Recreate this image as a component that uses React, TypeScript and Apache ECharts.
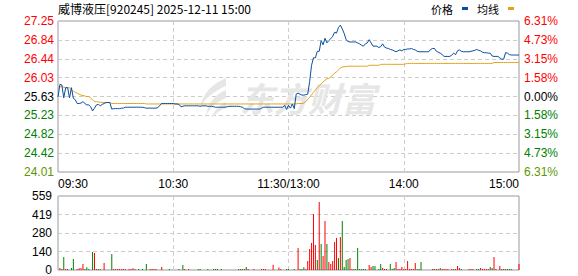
import React, { useEffect, useRef } from 'react';
import * as echarts from 'echarts';

const chartTitle = '威博液压[920245] 2025-12-11 15:00';
const legendNames = ['价格', '均线'];
const priceMin = 24.01;
const priceMax = 27.25;
const priceTickLabels = ['24.01', '24.42', '24.82', '25.23', '25.63', '26.03', '26.44', '26.84', '27.25'];
const pctTickLabels = ['6.31%', '4.73%', '3.15%', '1.58%', '0.00%', '1.58%', '3.15%', '4.73%', '6.31%'];
const volumeMax = 559;
const volumeTickLabels = ['0', '140', '280', '419', '559'];
const xTickLabels: Record<number, string> = { 0: '09:30', 60: '10:30', 120: '11:30/13:00', 180: '14:00', 240: '15:00' };

// minute categories 09:30..11:30, 13:01..15:00
const pad = (n: number) => (n < 10 ? '0' + n : '' + n);
const times: string[] = [];
for (let m = 9 * 60 + 30; m <= 11 * 60 + 30; m++) times.push(pad(Math.floor(m / 60)) + ':' + pad(m % 60));
for (let m = 13 * 60 + 1; m <= 15 * 60; m++) times.push(pad(Math.floor(m / 60)) + ':' + pad(m % 60));

const price = [
  25.62, 25.89, 25.88, 25.60, 25.82, 25.82, 25.60, 25.82, 25.59, 25.56,
  25.48, 25.48, 25.49, 25.52, 25.48, 25.45, 25.45, 25.41, 25.32, 25.38,
  25.45, 25.46, 25.43, 25.46, 25.48, 25.50, 25.50, 25.50, 25.36, 25.37,
  25.37, 25.37, 25.37, 25.38, 25.38, 25.40, 25.40, 25.40, 25.40, 25.40,
  25.40, 25.40, 25.40, 25.40, 25.40, 25.39, 25.38, 25.38, 25.38, 25.38,
  25.38, 25.38, 25.39, 25.44, 25.48, 25.48, 25.48, 25.48, 25.48, 25.48,
  25.48, 25.47, 25.47, 25.46, 25.41, 25.42, 25.43, 25.43, 25.43, 25.43,
  25.43, 25.43, 25.43, 25.43, 25.42, 25.43, 25.43, 25.43, 25.42, 25.42,
  25.42, 25.41, 25.40, 25.40, 25.40, 25.40, 25.40, 25.40, 25.41, 25.42,
  25.42, 25.42, 25.42, 25.42, 25.42, 25.41, 25.40, 25.37, 25.36, 25.36,
  25.36, 25.36, 25.36, 25.36, 25.36, 25.36, 25.38, 25.40, 25.40, 25.40,
  25.40, 25.40, 25.40, 25.40, 25.40, 25.40, 25.40, 25.40, 25.44, 25.35,
  25.44, 25.38, 25.47, 25.37, 25.68, 25.70, 25.68, 25.66, 25.66, 25.67,
  25.68, 25.95, 26.30, 26.46, 26.46, 26.60, 26.60, 26.83, 26.74, 26.88,
  26.78, 26.83, 26.87, 26.92, 27.01, 26.99, 27.11, 27.16, 27.08, 26.98,
  26.85, 26.81, 26.80, 26.80, 26.80, 26.80, 26.78, 26.76, 26.73, 26.71,
  26.76, 26.78, 26.85, 26.78, 26.71, 26.71, 26.71, 26.68, 26.70, 26.76,
  26.69, 26.67, 26.66, 26.64, 26.63, 26.61, 26.59, 26.61, 26.63, 26.61,
  26.64, 26.64, 26.65, 26.65, 26.66, 26.64, 26.63, 26.60, 26.59, 26.59,
  26.59, 26.59, 26.59, 26.59, 26.64, 26.66, 26.66, 26.60, 26.58, 26.56,
  26.53, 26.49, 26.49, 26.49, 26.49, 26.52, 26.56, 26.53, 26.61, 26.63,
  26.60, 26.59, 26.59, 26.59, 26.59, 26.60, 26.61, 26.62, 26.64, 26.62,
  26.61, 26.58, 26.57, 26.57, 26.56, 26.56, 26.50, 26.49, 26.49, 26.49,
  26.46, 26.43, 26.43, 26.57, 26.56, 26.53, 26.52, 26.52, 26.52, 26.52,
  26.52,
];

const avgPrice = [
  25.80, 25.84, 25.84, 25.83, 25.82, 25.82, 25.82, 25.76, 25.74, 25.72,
  25.70, 25.68, 25.66, 25.65, 25.64, 25.63, 25.63, 25.60, 25.56, 25.52,
  25.52, 25.51, 25.51, 25.50, 25.50, 25.50, 25.50, 25.50, 25.48, 25.48,
  25.48, 25.48, 25.48, 25.48, 25.48, 25.48, 25.48, 25.48, 25.48, 25.48,
  25.48, 25.48, 25.48, 25.48, 25.48, 25.48, 25.47, 25.47, 25.47, 25.47,
  25.47, 25.47, 25.47, 25.47, 25.47, 25.47, 25.47, 25.47, 25.47, 25.47,
  25.47, 25.47, 25.47, 25.47, 25.47, 25.47, 25.47, 25.47, 25.47, 25.47,
  25.47, 25.47, 25.47, 25.47, 25.47, 25.47, 25.47, 25.47, 25.47, 25.47,
  25.47, 25.47, 25.47, 25.47, 25.47, 25.47, 25.47, 25.47, 25.47, 25.47,
  25.47, 25.47, 25.47, 25.47, 25.47, 25.47, 25.47, 25.47, 25.47, 25.47,
  25.47, 25.47, 25.47, 25.47, 25.47, 25.47, 25.47, 25.47, 25.47, 25.47,
  25.47, 25.47, 25.47, 25.47, 25.47, 25.47, 25.47, 25.47, 25.47, 25.47,
  25.47, 25.47, 25.47, 25.47, 25.47, 25.48, 25.48, 25.48, 25.49, 25.52,
  25.57, 25.61, 25.67, 25.72, 25.77, 25.82, 25.86, 25.90, 25.94, 25.98,
  26.01, 26.02, 26.05, 26.09, 26.13, 26.16, 26.20, 26.24, 26.26, 26.27,
  26.27, 26.28, 26.28, 26.28, 26.28, 26.28, 26.28, 26.28, 26.28, 26.28,
  26.28, 26.28, 26.30, 26.30, 26.30, 26.30, 26.30, 26.30, 26.32, 26.32,
  26.32, 26.32, 26.32, 26.32, 26.32, 26.32, 26.32, 26.32, 26.32, 26.32,
  26.32, 26.33, 26.34, 26.34, 26.34, 26.34, 26.34, 26.34, 26.34, 26.34,
  26.34, 26.34, 26.34, 26.34, 26.34, 26.34, 26.34, 26.34, 26.34, 26.34,
  26.34, 26.34, 26.34, 26.34, 26.34, 26.34, 26.34, 26.34, 26.34, 26.34,
  26.34, 26.34, 26.34, 26.34, 26.34, 26.34, 26.34, 26.34, 26.34, 26.34,
  26.34, 26.34, 26.34, 26.34, 26.34, 26.34, 26.34, 26.36, 26.36, 26.36,
  26.36, 26.36, 26.36, 26.36, 26.36, 26.36, 26.36, 26.36, 26.36, 26.36,
  26.36,
];

// [minute index, volume, 1 = up / 0 = down]
const volumes: [number, number, number][] = [
  [1, 15, 1], [2, 8, 1], [3, 98, 0], [4, 8, 1], [5, 8, 1], [7, 15, 0], [8, 83, 0], [10, 8, 1], [11, 13, 1], [12, 15, 1],
  [13, 45, 1], [14, 8, 0], [15, 20, 0], [16, 8, 0], [18, 136, 0], [19, 128, 1], [20, 8, 1], [21, 8, 0], [22, 8, 0], [24, 53, 1],
  [28, 121, 0], [29, 8, 1], [30, 8, 1], [31, 8, 1], [32, 8, 1], [33, 8, 1], [34, 8, 1], [35, 8, 1], [37, 8, 1], [38, 8, 1],
  [39, 13, 1], [40, 8, 1], [42, 8, 0], [44, 8, 0], [46, 45, 0], [48, 8, 1], [49, 8, 1], [50, 8, 1], [51, 8, 1], [54, 23, 1],
  [58, 8, 0], [63, 8, 0], [65, 38, 0], [66, 8, 1], [68, 8, 1], [73, 8, 0], [74, 8, 0], [78, 8, 0], [81, 8, 0], [82, 8, 0],
  [83, 8, 0], [85, 8, 0], [94, 8, 0], [95, 8, 0], [96, 8, 1], [97, 8, 0], [98, 23, 0], [99, 8, 1], [102, 8, 1], [106, 8, 1],
  [107, 8, 1], [108, 8, 1], [112, 40, 1], [115, 18, 1], [116, 8, 1], [119, 8, 0], [120, 8, 0], [123, 8, 0], [125, 166, 1], [126, 8, 0],
  [127, 8, 0], [128, 20, 0], [129, 8, 1], [130, 68, 1], [131, 159, 1], [132, 204, 1], [133, 423, 1], [134, 189, 1], [135, 76, 0], [136, 514, 1],
  [137, 197, 0], [138, 106, 1], [139, 370, 1], [140, 197, 0], [141, 60, 1], [142, 45, 1], [143, 68, 1], [144, 212, 1], [145, 242, 1], [146, 91, 0],
  [147, 250, 1], [148, 370, 0], [149, 23, 0], [150, 76, 0], [151, 83, 0], [152, 91, 1], [153, 8, 1], [154, 8, 0], [155, 8, 0], [156, 166, 0],
  [157, 8, 0], [158, 8, 0], [159, 8, 0], [160, 8, 0], [162, 38, 1], [163, 23, 1], [164, 30, 0], [165, 30, 0], [167, 8, 0], [168, 45, 0],
  [169, 15, 1], [170, 8, 1], [171, 8, 0], [173, 45, 0], [174, 8, 0], [175, 15, 0], [176, 60, 1], [177, 8, 1], [178, 8, 1], [179, 23, 1],
  [180, 8, 1], [181, 8, 1], [182, 68, 1], [183, 8, 1], [184, 8, 1], [185, 8, 1], [186, 53, 1], [187, 8, 0], [188, 8, 0], [189, 60, 0],
  [195, 8, 1], [196, 8, 1], [197, 8, 0], [198, 8, 1], [199, 15, 0], [200, 8, 1], [201, 8, 1], [202, 8, 1], [203, 8, 1], [205, 8, 1],
  [206, 8, 0], [207, 8, 1], [208, 30, 1], [209, 15, 1], [210, 8, 0], [214, 8, 1], [215, 8, 1], [216, 8, 1], [218, 8, 0], [219, 8, 0],
  [220, 15, 1], [221, 8, 1], [222, 8, 1], [223, 8, 1], [224, 8, 1], [225, 23, 0], [226, 15, 0], [227, 98, 1], [228, 8, 1], [230, 30, 1],
  [231, 8, 0], [232, 8, 1], [233, 8, 0], [234, 8, 0], [235, 8, 0], [236, 8, 0], [240, 45, 1],
];

const RED = '#ff0000';
const GREEN = '#008000';
const BOTTOM = '#5f9600';
const BLUE = '#0a4ea2';
const GOLD = '#e3a21a';
const FONT = '"Liberation Sans", "Noto Sans CJK SC", sans-serif';

const logoPath =
  'M28 0 C14 6 4 16 2 30 C6 22 14 14 28 8 Z M28 12 C18 16 10 24 8 38 C12 30 18 24 28 20 Z M28 24 C22 27 16 32 14 40 C18 35 22 32 28 30 Z';
echarts.graphic.registerShape('emLogo', echarts.graphic.extendPath(logoPath, {}));

const gridLine = { show: true, lineStyle: { color: '#cccccc', type: [4, 3] as any, width: 1 } };
const isMajor = (i: number) => i % 60 === 0;

const levelColor = (v: any, isBottom: (n: number) => boolean) => {
  const n = Math.round(Number(v));
  if (n > 4) return RED;
  if (n === 4) return '#000000';
  if (isBottom(n)) return BOTTOM;
  return GREEN;
};

export default function App() {
  const ref = useRef<HTMLDivElement>(null);
  useEffect(() => {
    const chart = echarts.init(ref.current!, null, { renderer: 'svg' });
    const option: any = {
      animation: false,
      backgroundColor: '#ffffff',
      textStyle: { fontFamily: FONT },
      title: {
        text: chartTitle,
        left: 58,
        top: 2,
        padding: 0,
        textStyle: { fontSize: 12, fontWeight: 'normal', color: '#000', fontFamily: '"Noto Sans CJK SC", sans-serif' },
      },
      legend: {
        data: legendNames,
        right: 64,
        top: 3,
        align: 'right',
        icon: 'rect',
        itemWidth: 6,
        itemHeight: 3,
        itemGap: 9,
        padding: 0,
        textStyle: { fontSize: 11, color: '#000', padding: [0, 4, 0, 0], fontFamily: '"Noto Sans CJK SC", sans-serif' },
      },
      grid: [
        { left: 58, right: 59, top: 21, height: 151, show: true, borderColor: '#999', borderWidth: 1, backgroundColor: 'transparent' },
        { left: 58, right: 59, top: 196, height: 74, show: true, borderColor: '#999', borderWidth: 1, backgroundColor: 'transparent' },
      ],
      xAxis: [
        {
          gridIndex: 0,
          type: 'category',
          data: times,
          boundaryGap: false,
          axisLine: { show: false },
          axisTick: { show: false },
          axisLabel: {
            interval: (i: number) => isMajor(i),
            formatter: (_v: string, i: number) => xTickLabels[i] ?? '',
            alignMinLabel: 'left',
            alignMaxLabel: 'right',
            showMinLabel: true,
            showMaxLabel: true,
            hideOverlap: false,
            color: '#000',
            fontSize: 12,
            margin: 6,
          },
          splitLine: { ...gridLine, interval: (i: number) => isMajor(i) && i > 0 && i < 240 },
        },
        {
          gridIndex: 1,
          type: 'category',
          data: times,
          boundaryGap: false,
          axisLine: { show: false },
          axisTick: { show: false },
          axisLabel: { show: false },
          splitLine: { ...gridLine, interval: (i: number) => isMajor(i) && i > 0 && i < 240 },
        },
      ],
      yAxis: [
        { gridIndex: 0, type: 'value', min: priceMin, max: priceMax, show: false },
        {
          gridIndex: 0,
          type: 'value',
          position: 'left',
          min: 0,
          max: 8,
          interval: 1,
          axisLine: { show: false },
          axisTick: { show: false },
          axisLabel: {
            formatter: (v: number) => priceTickLabels[Math.round(v)],
            color: (v: any) => levelColor(v, (n) => n === 0),
            fontSize: 12,
            margin: 4,
          },
          splitLine: gridLine,
        },
        {
          gridIndex: 0,
          type: 'value',
          position: 'right',
          min: 0,
          max: 8,
          interval: 1,
          axisLine: { show: false },
          axisTick: { show: false },
          axisLabel: {
            formatter: (v: number) => pctTickLabels[8 - Math.round(v)],
            color: (v: any) => levelColor(v, (n) => n === 0),
            fontSize: 12,
            margin: 5,
          },
          splitLine: { show: false },
        },
        {
          gridIndex: 1,
          type: 'value',
          min: 0,
          max: volumeMax,
          interval: volumeMax / 4,
          axisLine: { show: false },
          axisTick: { show: false },
          axisLabel: {
            formatter: (_v: number, i: number) => volumeTickLabels[i],
            color: '#000',
            fontSize: 12,
            margin: 6,
          },
          splitLine: gridLine,
        },
      ],
      graphic: [
        {
          type: 'emLogo',
          x: 198,
          y: 78,
          scaleX: 1,
          scaleY: 1,
          z: 1,
          silent: true,
          style: { fill: '#e6e6e6' },
        },
        {
          type: 'text',
          x: 240,
          y: 80,
          z: 1,
          silent: true,
          style: {
            text: '东方财富',
            fill: '#e6e6e6',
            font: 'italic bold 34px "Noto Sans CJK SC", sans-serif',
          },
        },
      ],
      series: [
        {
          name: legendNames[0],
          type: 'line',
          xAxisIndex: 0,
          yAxisIndex: 0,
          data: price,
          showSymbol: false,
          symbol: 'none',
          lineStyle: { color: BLUE, width: 1 },
          itemStyle: { color: BLUE },
          z: 4,
        },
        {
          name: legendNames[1],
          type: 'line',
          xAxisIndex: 0,
          yAxisIndex: 0,
          data: avgPrice,
          showSymbol: false,
          symbol: 'none',
          lineStyle: { color: GOLD, width: 1 },
          itemStyle: { color: GOLD },
          z: 3,
        },
        {
          name: '成交量',
          type: 'bar',
          xAxisIndex: 1,
          yAxisIndex: 3,
          barWidth: 1,
          data: volumes.map(([i, v, up]) => ({ value: [i, v], itemStyle: { color: up ? RED : GREEN } })),
        },
      ],
    };
    chart.setOption(option);
    return () => chart.dispose();
  }, []);
  return <div ref={ref} style={{ position: 'absolute', left: 0, top: 0, width: 578, height: 276 }} />;
}
